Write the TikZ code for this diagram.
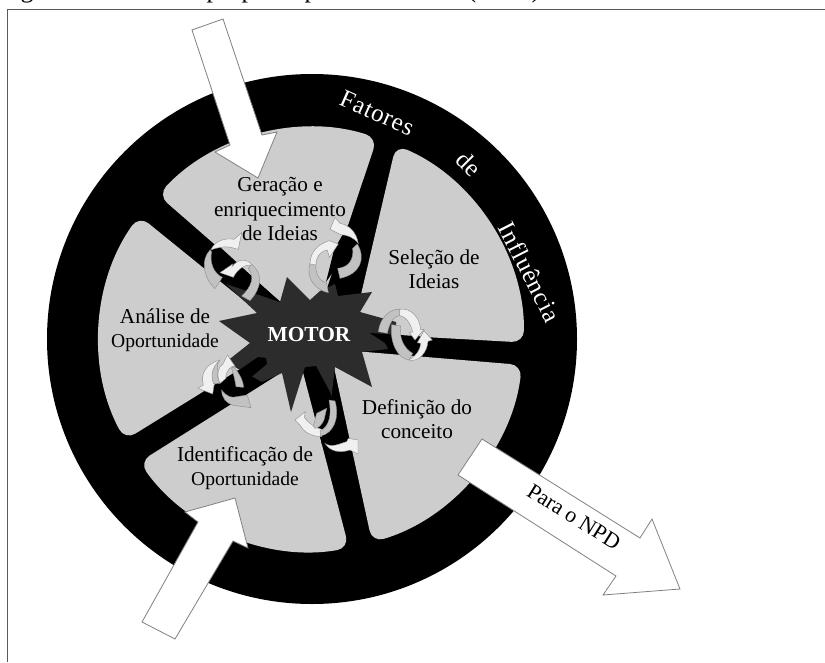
\documentclass[tikz,border=0pt]{standalone}
\usepackage{fontspec}
\setmainfont{Liberation Serif}
\newfontfamily\spacedserif[LetterSpace=3]{Liberation Serif}
\usetikzlibrary{calc}
\definecolor{wedgegray}{HTML}{CDCDCD}
\definecolor{stardark}{HTML}{2C2C2C}
\definecolor{rimline}{HTML}{808080}
\newcommand{\narrowline}[1]{{\fontsize{19.6}{24.5}\selectfont #1}}
\tikzset{
  wedgepart/.style={fill=wedgegray,rounded corners=12pt},
  bigarrow/.style={fill=white,draw=rimline,line width=0.8pt,line join=miter},
  blackbit/.style={fill=black},
  turnwhite/.style={fill=white!94!black,draw=black!45,line width=0.4pt},
  turngray/.style={fill=black!24,draw=black!45,line width=0.4pt},
  label/.style={font=\fontsize{21.2}{24.5}\selectfont,align=center,text=black,inner sep=0pt},
  rimtext/.style={font=\fontsize{25}{28}\spacedserif,text=white,inner sep=0pt},
  frameline/.style={draw=black!65,line width=0.9pt},
  cutletter/.style={font=\fontsize{26}{26}\selectfont,anchor=base,inner sep=0pt}
}
\begin{document}
\begin{tikzpicture}[x=1pt,y=1pt,yscale=-1]
\useasboundingbox (0,0) rectangle (825,662);
% cropped caption line: only the descenders survive
\begin{scope}
  \clip (0,0) rectangle (825,5);
  \node[cutletter] (capg) at (27,-2.5) {g};
  \node[cutletter] (capp1) at (213,-2.5) {p};
  \node[cutletter] (capp2) at (248,-2.5) {p};
  \node[cutletter] (capp3) at (311,-2.5) {p};
  \node[cutletter] (capa) at (472,-2.5) {(};
  \node[cutletter] (capb) at (536,-2.5) {)};
\end{scope}
\draw[frameline] (7.5,662) -- (7.5,9.5) -- (825,9.5);
% wheel
\fill[black] (312,339) circle[radius=265];
\path[wedgepart] (352,333) -- (396,145) arc[start angle=-66.6,end angle=0.8,radius=212] -- cycle;
\path[wedgepart] (330,349) -- (522,365) arc[start angle=7,end angle=73.4,radius=212] -- cycle;
\path[wedgepart] (300,361) -- (349,548) arc[start angle=80,end angle=144.6,radius=212] -- cycle;
\path[wedgepart] (290,338) -- (125,440) arc[start angle=151.6,end angle=215.6,radius=212] -- cycle;
\path[wedgepart] (313,330) -- (158,195) arc[start angle=223.1,end angle=287.7,radius=212] -- cycle;
% star
\fill[stardark] (287,277) -- (310,300) -- (320,291) -- (335,284) -- (338,296) -- (372,292) -- (360,312) -- (396,322) -- (396,348) -- (362,352) -- (372,387) -- (335,367) -- (331,400) -- (316,367) -- (305,367) -- (291,412) -- (282,373) -- (262,382) -- (226,362) -- (250,343) -- (219,321) -- (257,313) -- (226,284) -- (280,302) -- cycle;
% black spoke ends over the star
\fill[blackbit] (370,333) -- (430,337) -- (430,353) -- (390,352) -- (385,343) -- cycle;
\fill[blackbit] (307,367) -- (316,366) -- (330,392) -- (345,445) -- (322,445) -- (312,395) -- cycle;
\fill[blackbit] (222,382) -- (258,357) -- (266,358) -- (267,364) -- (250,378) -- (232,396) -- cycle;
\fill[blackbit] (205,240) -- (220,247) -- (280,302) -- (255,292) -- (225,275) -- (205,260) -- cycle;
\fill[blackbit] (348,225) -- (340,262) -- (326,282) -- (334,250) -- cycle;
% turning arrows (coordinates of a 3x crop)
\begin{scope}[shift={(170,170)},scale=1/3]
  % upper left pair
  \path[turngray] (120,240) .. controls (92,270) and (98,320) .. (135,356) -- (157,322) .. controls (130,310) and (118,275) .. (125,245) -- cycle;
  \path[turnwhite] (122,240) .. controls (135,212) and (165,203) .. (192,208) -- (215,188) -- (205,238) -- (182,232) .. controls (165,228) and (145,232) .. (122,240) -- cycle;
  \path[turngray] (245,283) .. controls (278,310) and (278,350) .. (240,392) -- (215,378) .. controls (245,350) and (255,320) .. (235,295) -- cycle;
  \path[turnwhite] (150,308) -- (188,282) -- (186,290) .. controls (205,265) and (230,265) .. (247,285) .. controls (230,283) and (205,292) .. (190,322) -- cycle;
  % top pair
  \path[turngray] (420,280) .. controls (408,320) and (430,358) .. (475,368) -- (470,340) .. controls (445,330) and (435,310) .. (438,280) -- cycle;
  \path[turnwhite] (420,282) .. controls (420,245) and (445,222) .. (478,212) -- (505,222) -- (478,262) -- (472,240) .. controls (450,245) and (438,260) .. (438,285) -- cycle;
  \path[turngray] (562,222) .. controls (588,265) and (572,312) .. (510,325) -- (503,295) .. controls (535,292) and (552,270) .. (548,235) -- cycle;
  \path[turnwhite] (495,142) -- (510,160) .. controls (540,165) and (560,190) .. (565,220) .. controls (548,200) and (530,195) .. (512,194) -- (480,178) -- cycle;
  % right pair
  \path[turngray] (625,485) .. controls (630,440) and (665,412) .. (695,418) -- (690,436) .. controls (672,438) and (658,458) .. (652,490) -- cycle;
  \path[turnwhite] (688,418) .. controls (725,412) and (750,445) .. (752,480) -- (762,478) -- (735,510) -- (718,488) -- (728,486) .. controls (722,460) and (708,440) .. (688,436) -- cycle;
  \path[turngray] (665,464) -- (692,468) .. controls (687,505) and (702,535) .. (728,550) -- (718,570) .. controls (685,567) and (658,520) .. (665,464) -- cycle;
  \path[turnwhite] (715,570) .. controls (742,558) and (752,532) .. (752,520) -- (742,518) -- (762,482) -- (787,510) -- (774,514) .. controls (772,545) and (748,578) .. (715,570) -- cycle;
  % lower left pair
  \path[turnwhite] (84,655) -- (100,645) .. controls (90,610) and (110,580) .. (150,570) .. controls (130,595) and (125,625) .. (133,640) -- (128,672) -- cycle;
  \path[turngray] (130,640) .. controls (120,610) and (130,590) .. (145,575) .. controls (140,600) and (140,625) .. (150,640) -- cycle;
  \path[turnwhite] (150,640) .. controls (138,615) and (145,590) .. (160,580) -- (172,555) -- (196,590) -- (185,590) .. controls (170,600) and (165,620) .. (168,625) -- cycle;
  \path[turngray] (190,590) .. controls (210,610) and (222,640) .. (220,652) -- (198,650) .. controls (195,630) and (190,610) .. (185,595) -- cycle;
  \path[turngray] (155,660) .. controls (170,680) and (185,685) .. (200,680) -- (232,675) -- (243,713) -- (190,706) .. controls (170,700) and (155,685) .. (155,660) -- cycle;
  % bottom pair
  \path[turnwhite] (375,750) -- (406,725) -- (403,742) .. controls (415,760) and (440,775) .. (455,778) -- (455,800) .. controls (425,800) and (400,785) .. (392,768) -- cycle;
  \path[turngray] (430,768) -- (440,730) -- (470,715) -- (462,750) .. controls (455,765) and (445,775) .. (435,775) -- cycle;
  \path[turngray] (477,690) -- (495,693) .. controls (510,745) and (490,790) .. (452,798) -- (450,782) .. controls (480,770) and (485,730) .. (477,690) -- cycle;
  \path[turnwhite] (465,820) .. controls (485,835) and (510,820) .. (530,815) -- (535,805) -- (564,810) -- (564,852) -- (540,840) .. controls (510,850) and (480,845) .. (465,820) -- cycle;
\end{scope}
% big arrows
\path[bigarrow] (192,30) -- (223,19) -- (262,135) -- (277,132) -- (258,178) -- (215,152) -- (230,145) -- cycle;
\path[bigarrow] (142,622) -- (175,639) -- (233,541) -- (248,548) -- (235,498) -- (185,512) -- (198,522) -- cycle;
\path[bigarrow] (482,439) -- (458,475) -- (616,576) -- (603,595) -- (680,589) -- (652,519) -- (640,538) -- cycle;
% labels
\node[label] (geracao) at (280,209) {Geração e\\enriquecimento\\de Ideias};
\node[label] (selecao) at (434,269) {Seleção de\\Ideias};
\node[label] (analise) at (165,330) {Análise de\\\narrowline{Oportunidade}};
\node[label] (definicao) at (417,419) {Definição do\\conceito};
\node[label] (identificacao) at (245,468) {Identificação de\\\narrowline{Oportunidade}};
\node[font=\fontsize{21.4}{24}\selectfont\bfseries,text=white,inner sep=0pt] (motor) at (309,335) {MOTOR};
\node[font=\fontsize{22}{24}\selectfont,rotate=-32,inner sep=0pt] (npd) at (574,517) {Para o NPD};
\node[rimtext,rotate=-24] (fatores) at (377,113) {Fatores};
\node[rimtext,rotate=-45] (de) at (469,164) {de};
\node[rimtext,rotate=-63] (influencia) at (530,272) {Influência};
\end{tikzpicture}
\end{document}
